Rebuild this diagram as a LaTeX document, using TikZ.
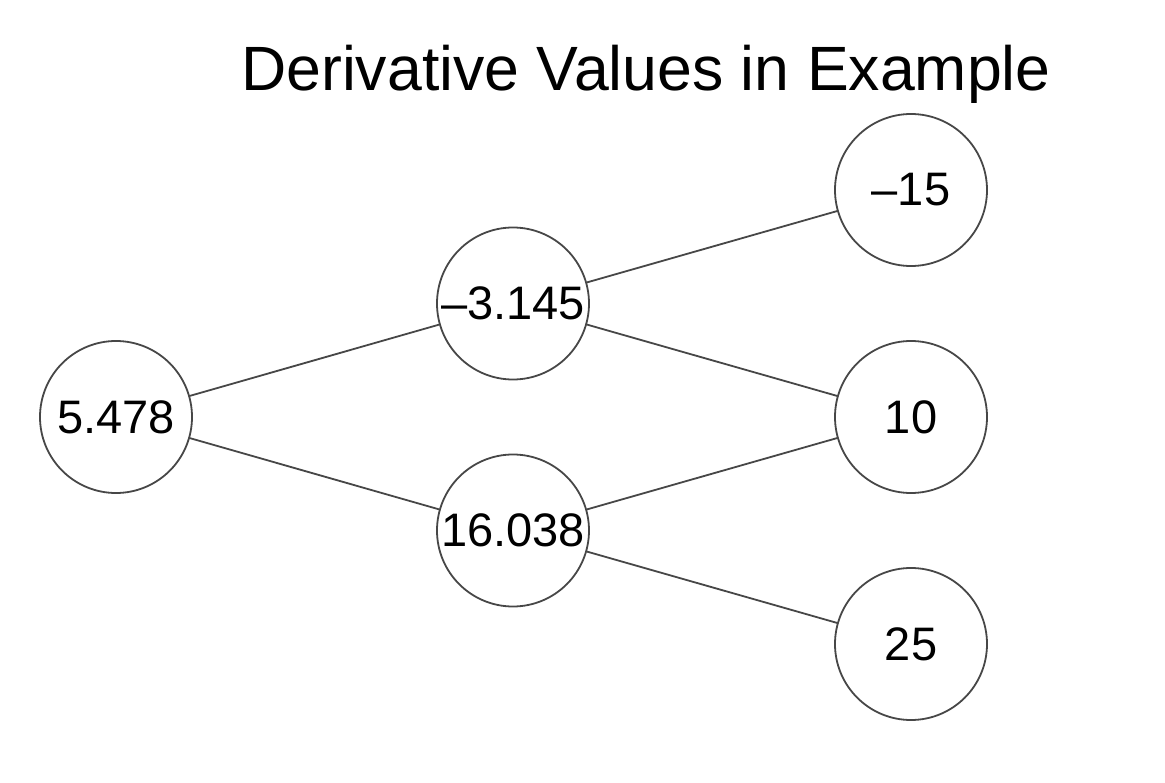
\documentclass[tikz,border=0pt]{standalone}
\usepackage{fontspec}
\setmainfont{Liberation Sans}
\begin{document}
\begin{tikzpicture}[x=1pt,y=-1pt,
  val/.style={circle,draw=black!72,line width=1.8pt,minimum size=152pt,inner sep=0pt,font=\fontsize{47}{50}\selectfont},
  edge/.style={draw=black!72,line width=1.8pt}]
\useasboundingbox (0,0) rectangle (1165,783);
\node (title) at (646,74) {\fontsize{62.6}{68}\selectfont Derivative Values in Example};
\node[val] (a) at (116,417) {5.478};
\node[val] (b) at (513,303.5) {–3.145};
\node[val] (c) at (513,530.5) {16.038};
\node[val] (d) at (911,190) {–15};
\node[val] (e) at (911,417) {10};
\node[val] (f) at (911,644) {25};
\draw[edge] (a) -- (b);
\draw[edge] (a) -- (c);
\draw[edge] (b) -- (d);
\draw[edge] (b) -- (e);
\draw[edge] (c) -- (e);
\draw[edge] (c) -- (f);
\end{tikzpicture}
\end{document}
